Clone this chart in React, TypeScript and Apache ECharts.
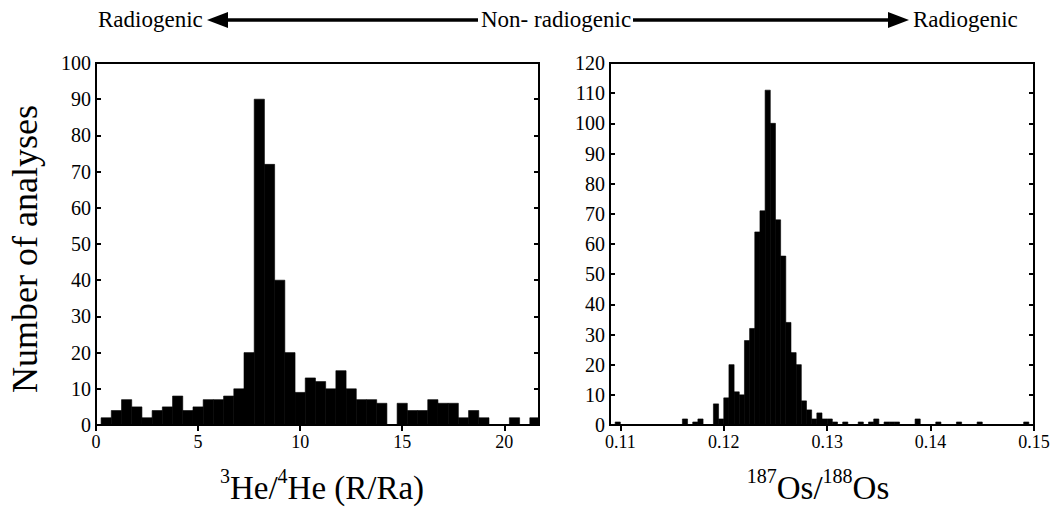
import React, { useEffect, useRef } from "react";
import * as echarts from "echarts";

// 3He/4He histogram (bins of 0.5 R/Ra starting at 0.25)
const heBinStart = 0.25;
const heBinWidth = 0.5;
const heCounts = [2, 4, 7, 5, 2, 4, 5, 8, 4, 5, 7, 7, 8, 10, 20, 90, 72, 40, 20, 9, 13, 12, 10, 15, 10, 7, 7, 6, 0, 6, 4, 4, 7, 6, 6, 2, 4, 2, 0, 0, 2, 0, 2];

// 187Os/188Os histogram (bins of 0.0005 starting at 0.1095)
const osBinStart = 0.1095;
const osBinWidth = 0.0005;
const osCounts = [
  1,
  0, 0, 0, 0, 0, 0, 0, 0, 0, 0, 0, 0,
  2, 0, 1, 2, 0, 0,
  7, 2, 9, 20, 11, 10, 28, 32, 64, 71, 111, 100, 68, 56, 34, 24, 20, 8, 5, 2, 4, 2, 2, 1, 0, 1, 0, 0, 1, 0, 1, 2, 0, 1, 1, 1, 0, 0, 0, 2, 0, 0, 0, 1, 0, 0, 0, 1, 0, 0, 0, 1, 0, 0, 0, 0, 0, 0, 0, 0, 1, 0,
];

const heTicks = [0, 5, 10, 15, 20];
const osTicks = [0.11, 0.12, 0.13, 0.14, 0.15];

const FONT = "Liberation Serif";

function binData(start: number, width: number, counts: number[]) {
  return counts.map((c, i) => [start + i * width, start + (i + 1) * width, c]);
}

function renderBar(params: any, api: any) {
  const x0 = api.value(0);
  const x1 = api.value(1);
  const y = api.value(2);
  if (!y) return null;
  const p0 = api.coord([x0, y]);
  const p1 = api.coord([x1, 0]);
  const cs = params.coordSys;
  const rect = echarts.graphic.clipRectByRect(
    { x: p0[0], y: p0[1], width: p1[0] - p0[0], height: p1[1] - p0[1] },
    { x: cs.x, y: cs.y, width: cs.width, height: cs.height }
  );
  return rect && { type: "rect", shape: rect, style: { fill: "#000", stroke: "#000", lineWidth: 0.6 } };
}

const axisLine = { show: true, lineStyle: { color: "#000", width: 2 } };

export default function App() {
  const ref = useRef<HTMLDivElement>(null);
  useEffect(() => {
    if (!ref.current) return;
    const chart = echarts.init(ref.current, null, { renderer: "svg" });
    const yAxes = (gi: number, max: number) => [
      {
        type: "value",
        gridIndex: gi,
        min: 0,
        max,
        interval: 10,
        axisLine,
        axisTick: { show: true, inside: true, length: 5, lineStyle: { color: "#000", width: 2 } },
        axisLabel: { color: "#000", fontFamily: FONT, fontSize: 20, margin: 5 },
        splitLine: { show: false },
      },
      {
        type: "value",
        gridIndex: gi,
        position: "right",
        min: 0,
        max,
        interval: 10,
        axisLine,
        axisTick: { show: true, inside: true, length: 5, lineStyle: { color: "#000", width: 2 } },
        axisLabel: { show: false },
        splitLine: { show: false },
      },
    ];
    const txt = (text: string, left: number, size: number) => ({
      type: "text",
      left,
      top: 8,
      style: { text, fontFamily: FONT, fontSize: size, fill: "#000" },
    });
    chart.setOption({
      animation: false,
      backgroundColor: "#fff",
      grid: [
        { left: 96, top: 63, width: 443, height: 362, show: true, borderColor: "#000", borderWidth: 2, backgroundColor: "transparent" },
        { left: 610, top: 63, width: 424, height: 362, show: true, borderColor: "#000", borderWidth: 2, backgroundColor: "transparent" },
      ],
      xAxis: [
        {
          type: "value",
          gridIndex: 0,
          min: 0,
          max: 21.7,
          interval: 5,
          axisLine,
          axisTick: { show: true, inside: false, length: 6, lineStyle: { color: "#000", width: 2 }, customValues: heTicks },
          axisLabel: { color: "#000", fontFamily: FONT, fontSize: 18, margin: 8, customValues: heTicks },
          splitLine: { show: false },
        },
        {
          type: "value",
          gridIndex: 1,
          min: 0.109,
          max: 0.15,
          axisLine,
          axisTick: { show: true, inside: false, length: 6, lineStyle: { color: "#000", width: 2 }, customValues: osTicks },
          axisLabel: {
            color: "#000",
            fontFamily: FONT,
            fontSize: 18,
            margin: 8,
            customValues: osTicks,
            formatter: (v: number) => v.toFixed(2),
          },
          splitLine: { show: false },
        },
      ],
      yAxis: [...yAxes(0, 100), ...yAxes(1, 120)],
      series: [
        {
          type: "custom",
          xAxisIndex: 0,
          yAxisIndex: 0,
          renderItem: renderBar,
          encode: { x: [0, 1], y: 2 },
          data: binData(heBinStart, heBinWidth, heCounts),
        },
        {
          type: "custom",
          xAxisIndex: 1,
          yAxisIndex: 2,
          renderItem: renderBar,
          encode: { x: [0, 1], y: 2 },
          data: binData(osBinStart, osBinWidth, osCounts),
        },
      ],
      graphic: [
        // header
        txt("Radiogenic", 98, 23),
        { type: "polygon", shape: { points: [[207, 20], [228, 12], [228, 28]] }, style: { fill: "#000" } },
        { type: "line", shape: { x1: 227, y1: 20, x2: 478, y2: 20 }, style: { stroke: "#000", lineWidth: 3.5 } },
        txt("Non- radiogenic", 481, 23),
        { type: "line", shape: { x1: 633, y1: 20, x2: 890, y2: 20 }, style: { stroke: "#000", lineWidth: 3.5 } },
        { type: "polygon", shape: { points: [[909, 20], [888, 12], [888, 28]] }, style: { fill: "#000" } },
        txt("Radiogenic", 913, 23),
        // y-axis title
        {
          type: "text",
          x: 25,
          y: 249,
          rotation: Math.PI / 2,
          style: {
            text: "Number of analyses",
            fontFamily: FONT,
            fontSize: 36,
            fill: "#000",
            align: "center",
            verticalAlign: "middle",
          },
        },
        // x-axis titles
        {
          type: "text",
          x: 322,
          y: 485,
          style: {
            text: "{s|3}{m|He/}{s|4}{m|He (R/Ra)}",
            align: "center",
            verticalAlign: "middle",
            fill: "#000",
            rich: {
              m: { fontFamily: FONT, fontSize: 33, lineHeight: 38, verticalAlign: "bottom", fill: "#000" },
              s: { fontFamily: FONT, fontSize: 20, lineHeight: 38, verticalAlign: "top", fill: "#000" },
            },
          },
        },
        {
          type: "text",
          x: 818,
          y: 485,
          style: {
            text: "{s|187}{m|Os/}{s|188}{m|Os}",
            align: "center",
            verticalAlign: "middle",
            fill: "#000",
            rich: {
              m: { fontFamily: FONT, fontSize: 33, lineHeight: 38, verticalAlign: "bottom", fill: "#000" },
              s: { fontFamily: FONT, fontSize: 20, lineHeight: 38, verticalAlign: "top", fill: "#000" },
            },
          },
        },
      ],
    });
    return () => chart.dispose();
  }, []);
  return <div ref={ref} style={{ width: 1058, height: 516, position: "absolute", left: 0, top: 0 }} />;
}
